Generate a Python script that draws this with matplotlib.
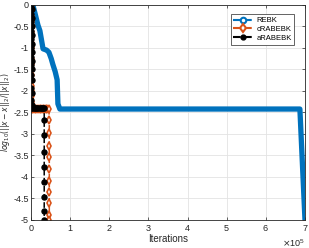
import numpy as np
import matplotlib.pyplot as plt
from matplotlib.lines import Line2D
from matplotlib.ticker import ScalarFormatter

plt.rcParams['font.family'] = ['Liberation Sans', 'DejaVu Sans']
plt.rcParams['mathtext.fontset'] = 'dejavusans'

# iterations (x 1e5) and log10 relative error
rebk_x = [0.05, 0.12, 0.18, 0.23, 0.31, 0.40, 0.46, 0.52, 0.56, 0.62, 0.67, 0.69, 0.74, 6.87, 7.0]
rebk_y = [0.0, -0.25, -0.47, -0.6, -1.02, -1.05, -1.1, -1.25, -1.38, -1.55, -1.74, -2.3, -2.42, -2.42, -5.0]

crab_x = [0.02, 0.03, 0.02, 0.03, 0.02, 0.03, 0.02, 0.03, 0.02, 0.03, 0.02, 0.03, 0.02, 0.03,
          0.02, 0.03, 0.02, 0.03, 0.02, 0.03, 0.02, 0.06, 0.10, 0.14, 0.18, 0.22, 0.26, 0.30,
          0.34, 0.38, 0.42, 0.46, 0.47, 0.47, 0.47, 0.47, 0.47, 0.47, 0.47, 0.47, 0.47, 0.47]
crab_y = [0.0, -0.12, -0.25, -0.37, -0.5, -0.62, -0.75, -0.88, -1.0, -1.12, -1.25, -1.38,
          -1.5, -1.62, -1.75, -1.88, -2.0, -2.12, -2.25, -2.35, -2.42, -2.42, -2.42, -2.42,
          -2.42, -2.42, -2.42, -2.42, -2.42, -2.42, -2.42, -2.42, -2.68, -2.98, -3.28, -3.54,
          -3.82, -4.09, -4.34, -4.61, -4.88, -5.0]

arab_x = [0.01, 0.02, 0.01, 0.02, 0.01, 0.02, 0.01, 0.02, 0.01, 0.02, 0.01, 0.02, 0.01, 0.02,
          0.01, 0.02, 0.01, 0.02, 0.01, 0.02, 0.01, 0.02, 0.01, 0.04, 0.07, 0.10, 0.13, 0.16,
          0.19, 0.22, 0.25, 0.28, 0.31, 0.34, 0.34, 0.34, 0.34, 0.34, 0.34, 0.34, 0.34, 0.34]
arab_y = [0.0, -0.1, -0.2, -0.3, -0.4, -0.5, -0.6, -0.7, -0.8, -0.9, -1.0, -1.1, -1.2, -1.3,
          -1.4, -1.5, -1.62, -1.75, -1.93, -2.05, -2.2, -2.32, -2.4, -2.4, -2.4, -2.4, -2.4,
          -2.4, -2.4, -2.4, -2.4, -2.4, -2.4, -2.4, -2.68, -3.02, -3.41, -3.76, -4.11, -4.46,
          -4.79, -5.0]

blue = '#0072BD'
orange = '#D95319'

fig = plt.figure(figsize=(3.09, 2.48), dpi=100)
ax = fig.add_axes([0.100, 0.113, 0.887, 0.867])

ax.plot(np.array(rebk_x) * 1e5, rebk_y, '-', color=blue, lw=3.8,
        solid_joinstyle='round', solid_capstyle='round')
ax.plot(np.array(crab_x) * 1e5, crab_y, '--', color=orange, lw=1.1,
        marker='d', ms=4.2, mfc='white', mec=orange, mew=1.2)
ax.plot(np.array(arab_x) * 1e5, arab_y, '--', color='black', lw=1.1,
        marker='o', ms=3.6, mfc='black', mec='black')

ax.set_xlim(0, 7e5)
ax.set_ylim(-5, 0)
ax.set_yticks(np.arange(-5, 0.01, 0.5))
ax.set_yticklabels(['-5', '-4.5', '-4', '-3.5', '-3', '-2.5', '-2', '-1.5', '-1', '-0.5', '0'])
ax.set_xticks(np.arange(0, 7.01e5, 1e5))
fmt = ScalarFormatter(useMathText=True)
fmt.set_powerlimits((0, 0))
ax.xaxis.set_major_formatter(fmt)
ax.xaxis.get_offset_text().set_fontsize(6.5)
ax.xaxis.get_offset_text().set_color('#262626')

ax.grid(True, color='#e3e3e3', lw=0.6)
ax.set_axisbelow(True)
ax.tick_params(direction='in', length=2.5, width=0.5, labelsize=6.5,
               colors='#262626', top=True, right=True, pad=2)
ax.tick_params(axis='y', pad=1.5)
for s in ax.spines.values():
    s.set_linewidth(0.6)
    s.set_color('#262626')

ax.set_xlabel('Iterations', fontsize=7, color='#262626', labelpad=1)
ax.set_ylabel(r'$log_{10}(||x-\hat{x}||_2/||\hat{x}||_2)$', fontsize=5.5,
              color='#262626')
ax.yaxis.set_label_coords(-0.064, 0.5)

handles = [
    Line2D([], [], ls='--', color=blue, lw=1.5, marker='o', ms=4, mfc='white', mec=blue, mew=1.5),
    Line2D([], [], ls='--', color=orange, lw=1.5, marker='d', ms=4.5, mfc='white', mec=orange, mew=1.5),
    Line2D([], [], ls='--', color='black', lw=1.5, marker='o', ms=3.5, mfc='black'),
]
leg = ax.legend(handles, ['REBK', 'cRABEBK', 'aRABEBK'], loc='upper right',
                fontsize=5.5, fancybox=False, framealpha=1, edgecolor='#262626',
                handlelength=2.6, borderpad=0.35, labelspacing=0.2, handletextpad=0.4,
                bbox_to_anchor=(0.975, 0.975))
leg.get_frame().set_linewidth(0.5)

fig.savefig('out.png', dpi=100)
